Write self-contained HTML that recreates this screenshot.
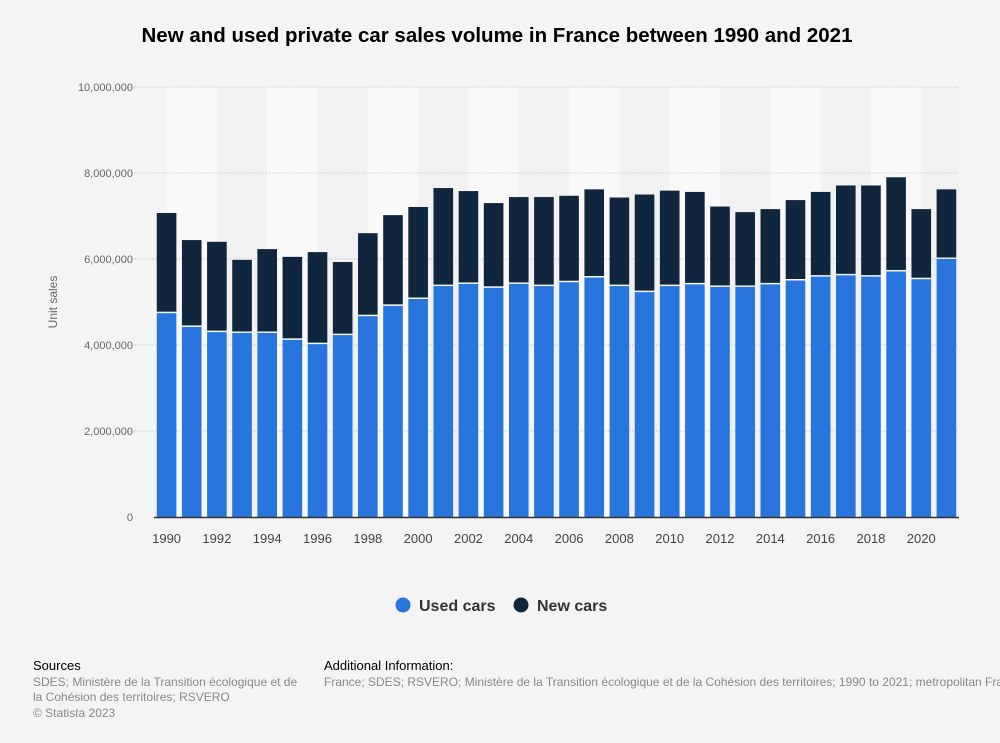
<!DOCTYPE html>
<html><head><meta charset="utf-8"><style>
body{margin:0;background:#f4f4f4;font-family:"Liberation Sans",sans-serif;}
svg{display:block}
</style></head><body>
<svg id="c" width="1000" height="743" xmlns="http://www.w3.org/2000/svg">
<rect width="1000" height="743" fill="#f4f4f4"/>
<text x="497" y="42" text-anchor="middle" font-size="20.5" font-weight="bold" fill="#000">New and used private car sales volume in France between 1990 and 2021</text>
<g id="bg"></g><g id="grid"></g><g id="bars"></g><g id="axes"></g>
<text transform="translate(57,302) rotate(-90)" text-anchor="middle" font-size="12" fill="#666">Unit sales</text>
<g>
<g><circle cx="403" cy="605" r="7.5" fill="#2876dd"/><text x="419" y="611" font-size="16" font-weight="bold" fill="#333">Used cars</text></g>
<g><circle cx="521" cy="605" r="7.5" fill="#10263e"/><text x="537" y="611" font-size="16" font-weight="bold" fill="#333">New cars</text></g>
</g>
<text x="33" y="670" font-size="13" fill="#000">Sources</text>
<text font-size="12" fill="#888"><tspan x="33" y="686">SDES; Ministère de la Transition écologique et de</tspan><tspan x="33" y="701">la Cohésion des territoires; RSVERO</tspan><tspan x="33" y="717">© Statista 2023</tspan></text>
<text x="324" y="670" font-size="13" fill="#000">Additional Information:</text>
<text x="324" y="686" font-size="12" fill="#888">France; SDES; RSVERO; Ministère de la Transition écologique et de la Cohésion des territoires; 1990 to 2021; metropolitan France</text>
</svg>
<script>
const years=[1990,1991,1992,1993,1994,1995,1996,1997,1998,1999,2000,2001,2002,2003,2004,2005,2006,2007,2008,2009,2010,2011,2012,2013,2014,2015,2016,2017,2018,2019,2020,2021];
const usedCars=[4.74,4.42,4.30,4.28,4.28,4.12,4.02,4.23,4.67,4.91,5.07,5.37,5.42,5.33,5.42,5.37,5.46,5.57,5.37,5.23,5.37,5.41,5.35,5.35,5.41,5.50,5.59,5.62,5.59,5.71,5.53,6.00];
const totalCars=[7.07,6.44,6.40,5.98,6.23,6.05,6.16,5.93,6.60,7.02,7.21,7.65,7.58,7.30,7.44,7.44,7.47,7.62,7.43,7.50,7.59,7.56,7.22,7.09,7.16,7.37,7.56,7.71,7.71,7.90,7.16,7.62];
const yTicks=[0,2,4,6,8,10];
const yTickLabels=["0","2,000,000","4,000,000","6,000,000","8,000,000","10,000,000"];
const NS="http://www.w3.org/2000/svg";
const L=154,R=959,T=87,B=517,max=10;
const bw=(R-L)/years.length;
const y=v=>B-(v/max)*(B-T);
const xc=i=>L+bw*(i+0.5);
function mk(tag,attrs,parent){const e=document.createElementNS(NS,tag);for(const k in attrs)e.setAttribute(k,attrs[k]);document.getElementById(parent).appendChild(e);return e;}
for(let i=0;i<years.length;i+=2){
  const x0=xc(i),x1=Math.min(xc(i+2),R);
  const s=mk('rect',{x:x0,y:T,width:x1-x0,height:B-T,fill:(i/2)%2===0?'#f9f9f9':'#f1f1f1'},'bg');
  
  
}
yTicks.forEach((t,i)=>{
  if(t>0){const g=mk('line',{x1:128,x2:R,y1:y(t),y2:y(t),stroke:'#ccc','stroke-dasharray':'1.5,1.5'},'grid');
  
  }
  const l=mk('text',{x:133,y:y(t)+4,'text-anchor':'end','font-size':11,fill:'#666'},'axes');
  l.textContent=yTickLabels[i];
  
  
});
const w=bw*0.78;
years.forEach((yr,i)=>{
  const x=xc(i)-w/2;
  const u=mk('rect',{x:x,y:y(usedCars[i]),width:w,height:B-y(usedCars[i]),fill:'#2876dd'},'bars');
  
  
  const n=mk('rect',{x:x,y:y(totalCars[i]),width:w,height:y(usedCars[i])-y(totalCars[i])-1.5,fill:'#10263e'},'bars');
  
  
  if(i%2===0){const t=mk('text',{x:xc(i),y:543,'text-anchor':'middle','font-size':13,fill:'#444'},'axes');
  t.textContent=yr;
  
  }
});
const ax=mk('line',{x1:L,x2:R,y1:B+0.5,y2:B+0.5,stroke:'#333','stroke-width':1.5},'axes');


</script>
</body></html>
